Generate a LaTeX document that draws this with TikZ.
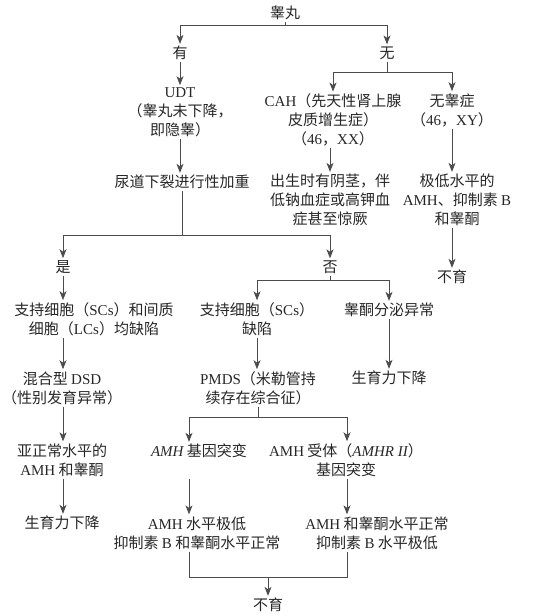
\documentclass[tikz,border=0pt]{standalone}
\usepackage{fontspec}
\setmainfont{Noto Sans CJK SC}
\newfontfamily\latfont{Liberation Serif}
\newcommand\la[1]{{\latfont #1}}
\usetikzlibrary{arrows.meta}
\begin{document}
\begin{tikzpicture}[x=1pt,y=-1pt,
  txt/.style={font=\fontsize{15}{19}\selectfont, align=center, inner sep=2pt, text=black!85},
  ln/.style={draw=black!70, line width=0.8pt},
  arr/.style={ln, -{Stealth[length=9pt,width=7pt,inset=2.5pt]}}]
\useasboundingbox (0,0) rectangle (548,616);
\node[txt] (testis) at (285,13) {睾丸};
\node[txt] (you) at (180,53) {有};
\node[txt] (wu) at (387,53) {无};
\node[txt] (udt) at (180,112) {\la{UDT}\\（睾丸未下降，\\即隐睾）};
\node[txt] (cah) at (333,120) {\la{CAH}（先天性肾上腺\\皮质增生症）\\（\la{46}，\la{XX}）};
\node[txt] (anor) at (452,110) {无睾症\\（\la{46}，\la{XY}）};
\node[txt] (hypo) at (182,182) {尿道下裂进行性加重};
\node[txt] (birth) at (330,200) {出生时有阴茎，伴\\低钠血症或高钾血\\症甚至惊厥};
\node[txt] (low) at (457,200) {极低水平的\\\la{AMH}、抑制素 \la{B}\\和睾酮};
\node[txt] (inf1) at (452,277) {不育};
\node[txt] (yes) at (63,267) {是};
\node[txt] (no) at (330,267) {否};
\node[txt] (both) at (94,319) {支持细胞（\la{SCs}）和间质\\细胞（\la{LCs}）均缺陷};
\node[txt] (sc) at (257,319) {支持细胞（\la{SCs}）\\缺陷};
\node[txt] (tsec) at (389,310) {睾酮分泌异常};
\node[txt] (mixed) at (62,388) {混合型 \la{DSD}\\（性别发育异常）};
\node[txt] (pmds) at (258,388) {\la{PMDS}（米勒管持\\续存在综合征）};
\node[txt] (fert1) at (389,378) {生育力下降};
\node[txt] (sub) at (62,460) {亚正常水平的\\\la{AMH} 和睾酮};
\node[txt] (amhg) at (199,451) {\la{\itshape AMH} 基因突变};
\node[txt] (amhr) at (346,460) {\la{AMH} 受体（\la{\itshape AMHR II}）\\基因突变};
\node[txt] (fert2) at (62,523) {生育力下降};
\node[txt] (res1) at (197,533) {\la{AMH} 水平极低\\抑制素 \la{B} 和睾酮水平正常};
\node[txt] (res2) at (377,533) {\la{AMH} 和睾酮水平正常\\抑制素 \la{B} 水平极低};
\node[txt] (inf2) at (268,605) {不育};
\coordinate (b1) at (0,25);
\coordinate (b2) at (0,72);
\coordinate (b3) at (0,235);
\coordinate (b4) at (0,280);
\coordinate (b5) at (0,417);
\coordinate (b6) at (0,577);
\coordinate (cl) at (189,0);
\coordinate (cr) at (347,0);
\draw[ln] (testis.south) -- (testis.south |- b1);
\draw[arr] (testis.south |- b1) -| (you.north);
\draw[arr] (testis.south |- b1) -| (wu.north);
\draw[arr] (you.south) -- (udt.north);
\draw[ln] (wu.south) -- (wu.south |- b2);
\draw[arr] (wu.south |- b2) -| (cah.north);
\draw[arr] (wu.south |- b2) -| (anor.north);
\draw[arr] (udt.south) -- (udt.south |- hypo.north);
\draw[arr] (cah.south -| birth) -- (birth.north);
\draw[arr] (anor.south) -- (anor.south |- low.north);
\draw[arr] (low.south -| inf1) -- (inf1.north);
\draw[ln] (hypo.south) -- (hypo.south |- b3);
\draw[arr] (hypo.south |- b3) -| (yes.north);
\draw[arr] (hypo.south |- b3) -| (no.north);
\draw[arr] (yes.south) -- (yes.south |- both.north);
\draw[ln] (no.south) -- (no.south |- b4);
\draw[arr] (no.south |- b4) -| (sc.north);
\draw[arr] (no.south |- b4) -| (tsec.north);
\draw[arr] (both.south -| yes) -- (mixed.north -| yes);
\draw[arr] (sc.south) -- (sc.south |- pmds.north);
\draw[arr] (tsec.south) -- (fert1.north);
\draw[arr] (mixed.south -| yes) -- (sub.north -| yes);
\draw[ln] (pmds.south) -- (pmds.south |- b5);
\draw[arr] (pmds.south |- b5) -| (amhg.north -| cl);
\draw[arr] (pmds.south |- b5) -| (amhr.north -| cr);
\draw[arr] (sub.south -| yes) -- (fert2.north -| yes);
\draw[arr] (amhr.south -| cl) -- (res1.north -| cl);
\draw[arr] (amhr.south -| cr) -- (res2.north -| cr);
\draw[ln] (res1.south -| cl) |- (b6 -| cr) -- (res2.south -| cr);
\draw[arr] (inf2.north |- b6) -- (inf2.north);
\end{tikzpicture}
\end{document}
